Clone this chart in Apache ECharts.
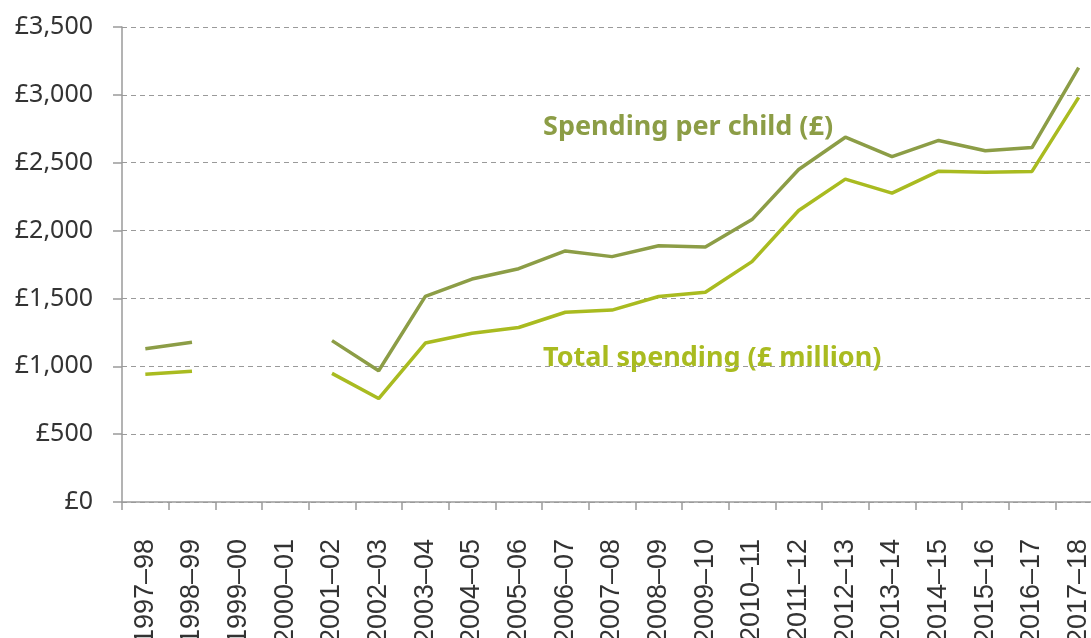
<!DOCTYPE html>
<html>
<head>
<meta charset="utf-8">
<script src="https://cdn.jsdelivr.net/npm/echarts@6/dist/echarts.min.js"></script>
<style>
html,body{margin:0;padding:0;background:#fff;}
#chart{width:1091px;height:638px;}
</style>
</head>
<body>
<div id="chart"></div>
<script>
var categories = ['1997–98','1998–99','1999–00','2000–01','2001–02','2002–03','2003–04','2004–05','2005–06','2006–07','2007–08','2008–09','2009–10','2010–11','2011–12','2012–13','2013–14','2014–15','2015–16','2016–17','2017–18'];
var perChild = [1130,1177,null,null,1189,967,1515,1643,1719,1850,1808,1888,1879,2081,2450,2688,2545,2664,2588,2612,3200];
var totalSpending = [941,963,null,null,948,762,1171,1243,1286,1398,1414,1514,1545,1771,2148,2379,2276,2438,2429,2436,2981];
var yTicks = [0,500,1000,1500,2000,2500,3000,3500];
var seriesNames = ['Spending per child (£)','Total spending (£ million)'];

var chart = echarts.init(document.getElementById('chart'), null, {renderer:'canvas'});
var gray = '#9a9a9a';
chart.setOption({
  animation:false,
  backgroundColor:'#ffffff',
  grid:{left:122, right:-11, top:27, bottom:136, containLabel:false, outerBoundsMode:'none'},
  xAxis:{
    type:'category',
    data:categories,
    boundaryGap:true,
    axisLine:{lineStyle:{color:gray,width:1.5}},
    axisTick:{show:true,length:8,lineStyle:{color:gray,width:1.5}},
    axisLabel:{rotate:90,interval:0,margin:37,fontFamily:'Liberation Sans',fontSize:27,color:'#333333'}
  },
  yAxis:{
    type:'value',
    min:yTicks[0], max:yTicks[yTicks.length-1], interval:500,
    axisLine:{show:true,lineStyle:{color:gray,width:1.5}},
    axisTick:{show:true,length:9,lineStyle:{color:gray,width:1.5}},
    splitLine:{show:true,lineStyle:{color:gray,width:1.2,type:[5,4]}},
    axisLabel:{margin:29,fontFamily:'Noto Sans',fontSize:25,color:'#333333',
      formatter:function(v){return '£'+v.toLocaleString('en-GB');}}
  },
  series:[
    {name:seriesNames[0],type:'line',data:perChild,connectNulls:false,showSymbol:false,symbol:'none',
     lineStyle:{color:'#8c9d46',width:3.5},itemStyle:{color:'#8c9d46'}},
    {name:seriesNames[1],type:'line',data:totalSpending,connectNulls:false,showSymbol:false,symbol:'none',
     lineStyle:{color:'#a9bb20',width:3.5},itemStyle:{color:'#a9bb20'}}
  ],
  graphic:[
    {type:'text',left:543,top:114,style:{text:seriesNames[0],font:'bold 27px "Noto Sans"',fill:'#8c9d46'}},
    {type:'text',left:543,top:345,style:{text:seriesNames[1],font:'bold 27px "Noto Sans"',fill:'#a9bb20'}}
  ]
});
</script>
</body>
</html>
